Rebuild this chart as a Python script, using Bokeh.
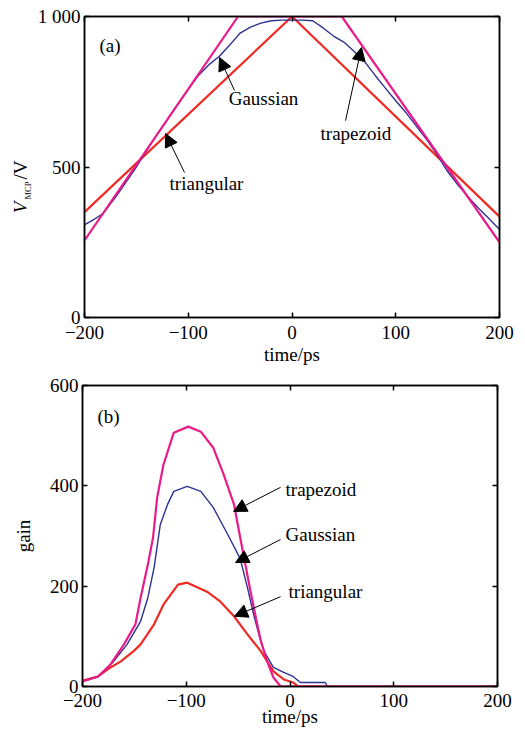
import math
from bokeh.plotting import figure
from bokeh.layouts import column, row
from bokeh.models import (Label, Arrow, NormalHead, LinearAxis, FixedTicker,
                          Range1d)
from bokeh.embed import file_html
from bokeh.resources import INLINE

# ---------------- data: panel (a) V_MCP vs time ----------------
trap_a_t = [-200, -52, 48, 200]
trap_a_v = [256, 1000, 1000, 250]

tri_a_t = [-200, 0, 200]
tri_a_v = [350, 1000, 335]

gau_a_t = [-200, -190, -182, -175, -170, -160, -150, -140, -130, -120, -110,
           -100, -90, -80, -70, -60, -50, -40, -30, -20, -10, 0, 10, 20, 30,
           40, 50, 60, 70, 80, 90, 100, 110, 120, 130, 140, 150, 160, 170,
           180, 190, 200]
gau_a_v = [308, 328, 345, 378, 400, 450, 500, 555, 608, 658, 710,
           758, 805, 840, 868, 905, 945, 965, 978, 986, 988, 988, 988, 986, 962,
           935, 915, 884, 850, 805, 762, 720, 680, 635, 590, 540, 485, 440, 400,
           362, 328, 292]

# ---------------- data: panel (b) gain vs time ----------------
trap_b_t = [-200, -185, -173, -160, -149, -144, -137, -132, -128, -122, -112,
            -98, -86, -74, -64, -54, -48, -43, -38, -31, -28, -22, -16, -9, 200]
trap_b_g = [10, 20, 44, 84, 124, 177, 243, 297, 377, 442, 506,
            518, 508, 476, 423, 363, 297, 243, 189, 118, 90, 50, 18, 0, 0]

gau_b_t = [-200, -185, -170, -157, -144, -137, -131, -125, -118, -112, -99,
           -86, -74, -60, -48, -41, -35, -30, -25, -16, -6, 3, 10, 34, 36, 200]
gau_b_g = [10, 20, 50, 84, 130, 177, 237, 323, 363, 389, 399,
           389, 357, 303, 255, 197, 143, 104, 70, 38, 28, 20, 8, 8, 0, 0]

tri_b_t = [-200, -185, -173, -163, -151, -144, -131, -122, -108, -99, -80,
           -67, -54, -41, -28, -22, -16, -6, 3, 8, 200]
tri_b_g = [12, 20, 38, 50, 70, 84, 124, 163, 203, 207, 189,
           169, 140, 104, 70, 50, 30, 14, 8, 0, 0]

x_ticks = [-200, -100, 0, 100, 200]
x_tick_labels = {-200: "\u2212200", -100: "\u2212100", 0: "0", 100: "100", 200: "200"}
ya_ticks = [0, 500, 1000]
ya_tick_labels = {0: "0", 500: "500", 1000: "1 000"}
yb_ticks = [0, 200, 400, 600]

MAGENTA = "#EA1A8A"
BLUE = "#2E3192"
RED = "#EE2B24"
FONT = "Liberation Serif"
FS = "19px"

FRAME_W, FRAME_H = 415, 301
LEFT_BORDER = 82
HELPER_W = 34
P1_H = 16 + FRAME_H + 46


def style_axis(ax, ticks, overrides=None, show_labels=True, standoff=8):
    ax.ticker = FixedTicker(ticks=ticks)
    ax.major_tick_in = 5
    ax.major_tick_out = 0
    ax.minor_tick_line_color = None
    ax.axis_line_width = 1.5
    ax.axis_line_color = "black"
    ax.major_tick_line_width = 1.5
    ax.major_tick_line_color = "black"
    ax.major_label_text_font = FONT
    ax.major_label_text_color = "black"
    ax.major_label_text_font_size = FS
    ax.axis_label_text_font = FONT
    ax.axis_label_text_font_size = FS
    ax.axis_label_text_font_style = "normal"
    ax.axis_label_text_color = "black"
    if show_labels:
        ax.major_label_standoff = standoff
        if overrides:
            ax.major_label_overrides = overrides
    else:
        ax.major_label_standoff = 0
        ax.major_label_overrides = {t: "" for t in ticks}


def make_fig(yr, yticks, yover, border_left, border_top, border_bottom,
             x_standoff, x_label_standoff):
    p = figure(frame_width=FRAME_W, frame_height=FRAME_H,
               x_range=Range1d(-200, 200), y_range=Range1d(*yr),
               output_backend="svg", toolbar_location=None,
               min_border_left=border_left, min_border_right=20,
               min_border_top=border_top, min_border_bottom=border_bottom)
    p.grid.visible = False
    p.outline_line_color = "black"
    p.outline_line_width = 1.5
    p.background_fill_color = "white"
    p.border_fill_color = "white"
    bottom = p.below[0]
    left = p.left[0]
    style_axis(bottom, x_ticks, x_tick_labels, standoff=x_standoff)
    style_axis(left, yticks, yover, standoff=4)
    top = LinearAxis()
    style_axis(top, x_ticks, show_labels=False)
    right = LinearAxis()
    style_axis(right, yticks, show_labels=False)
    p.add_layout(top, "above")
    p.add_layout(right, "right")
    bottom.axis_label = "time/ps"
    bottom.axis_label_standoff = x_label_standoff
    return p, bottom, left


def text(p, x, y, s):
    p.add_layout(Label(x=x, y=y, text=s, text_font=FONT, text_font_size=FS,
                       text_color="black", text_align="left",
                       text_baseline="middle"))


def arrow(p, x0, y0, x1, y1):
    p.add_layout(Arrow(end=NormalHead(size=13, fill_color="black",
                                      line_color="black", line_width=1),
                       x_start=x0, y_start=y0, x_end=x1, y_end=y1,
                       line_color="black", line_width=1))


# ---------------- panel (a) ----------------
p1, p1_bottom, p1_left = make_fig((0, 1000), ya_ticks, ya_tick_labels,
                                  LEFT_BORDER - HELPER_W, 16, 46, 8, 2)
p1.line(tri_a_t, tri_a_v, line_color=RED, line_width=2.2)
p1.line(gau_a_t, gau_a_v, line_color=BLUE, line_width=1.4)
p1.line(trap_a_t, trap_a_v, line_color=MAGENTA, line_width=2.2)

text(p1, -185.5, 905, "(a)")
text(p1, -61, 727, "Gaussian")
text(p1, -118, 445, "triangular")
text(p1, 27.5, 611, "trapezoid")
arrow(p1, -55.4, 754, -69.9, 864)
arrow(p1, -103.6, 482, -121.9, 611)
arrow(p1, 51.6, 654, 67.0, 897)

# narrow strip left of panel (a) carrying the y-axis title V_MCP/V
strip = figure(frame_width=HELPER_W, frame_height=P1_H,
               x_range=Range1d(0, HELPER_W), y_range=Range1d(0, P1_H),
               x_axis_type=None, y_axis_type=None, output_backend="svg",
               toolbar_location=None, min_border=0)
strip.grid.visible = False
strip.outline_line_color = None
strip.border_fill_color = "white"
ang = math.pi / 2


def vlabel(x, page_y, s, size, style="normal"):
    strip.add_layout(Label(x=x, y=P1_H - page_y, text=s, angle=ang,
                           text_font=FONT, text_font_size=size,
                           text_font_style=style, text_color="black",
                           text_align="center", text_baseline="middle"))


vlabel(19.6, 191, "V", FS, "italic")
vlabel(27.1, 174, "MCP", "8.5px")
vlabel(19.6, 153.5, "/V", FS)

# ---------------- panel (b) ----------------
p2, p2_bottom, p2_left = make_fig((0, 600), yb_ticks, None,
                                  LEFT_BORDER, 18, 39, 7, -4)
p2_left.axis_label = "gain"
p2_left.axis_label_standoff = 13
p2.line(tri_b_t, tri_b_g, line_color=RED, line_width=2.2)
p2.line(gau_b_t, gau_b_g, line_color=BLUE, line_width=1.4)
p2.line(trap_b_t, trap_b_g, line_color=MAGENTA, line_width=2.2)

text(p2, -185.5, 538, "(b)")
text(p2, -4.3, 393, "trapezoid")
text(p2, -4.3, 303, "Gaussian")
text(p2, -1.4, 189, "triangular")
arrow(p2, -9.1, 397, -54.4, 349)
arrow(p2, -9.1, 293, -52.5, 247)
arrow(p2, -9.1, 179, -53.5, 140)

layout = column(row(strip, p1, spacing=0), p2, spacing=0)
open("out.html", "w").write(file_html(layout, INLINE))
